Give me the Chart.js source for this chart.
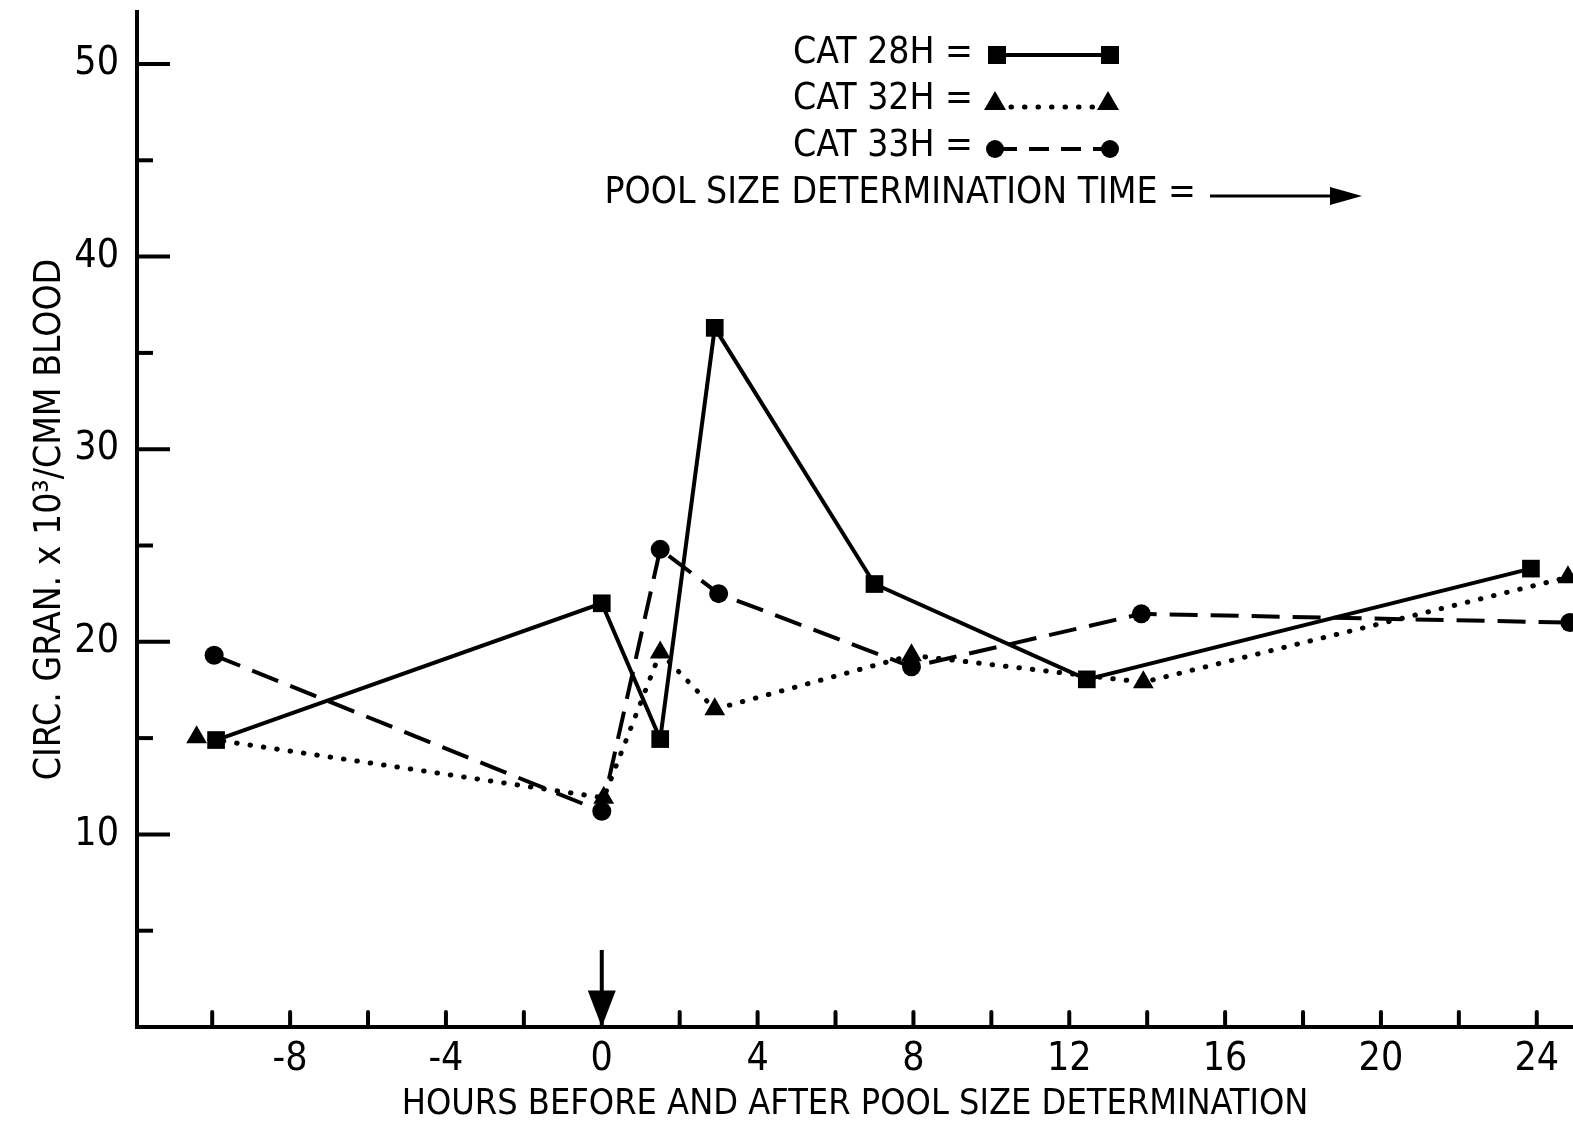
<!DOCTYPE html>
<html><head><meta charset="utf-8">
<script src="https://cdn.jsdelivr.net/npm/chart.js@4/dist/chart.umd.min.js"></script>
<style>html,body{margin:0;padding:0;background:#fff;}#wrap{width:1573px;height:1126px;}</style>
</head><body><div id="wrap"><canvas id="c" width="1573" height="1126"></canvas></div>
<script>
// ---- data ----
const hours28 = [-9.9, 0, 1.5, 2.9, 7.0, 12.45, 23.85];
const cat28   = [14.9, 22.0, 14.95, 36.3, 23.0, 18.05, 23.8];
const hours32 = [-10.4, 0.05, 1.5, 2.9, 7.95, 13.9, 24.8];
const cat32   = [15.05, 11.9, 19.45, 16.5, 19.3, 17.9, 23.35];
const hours33 = [-9.95, 0, 1.5, 3.0, 7.95, 13.85, 24.85];
const cat33   = [19.3, 11.2, 24.8, 22.5, 18.7, 21.45, 21.0];
const seriesNames = ['CAT 28H', 'CAT 32H', 'CAT 33H'];
const arrowLabel = 'POOL SIZE DETERMINATION TIME';
const poolTime = 0;
const xTickLabels = [-8, -4, 0, 4, 8, 12, 16, 20, 24];
const xTickMarks = [-10, -8, -6, -4, -2, 0, 2, 4, 6, 8, 10, 12, 14, 16, 18, 20, 22, 24];
const yTickLabels = [10, 20, 30, 40, 50];
const yMinorTicks = [5, 15, 25, 35, 45];
const xTitle = 'HOURS BEFORE AND AFTER POOL SIZE DETERMINATION';
const yTitle = 'CIRC. GRAN. x 10\u00B3/CMM BLOOD';

const FONT = '"Liberation Sans Narrow", "DejaVu Sans Condensed", sans-serif';
const toPts = (xs, ys) => xs.map((x, i) => ({x: x, y: ys[i]}));

const overlay = {
  id: 'overlay',
  beforeDraw(chart) {
    const ctx = chart.ctx;
    ctx.save(); ctx.fillStyle = '#fff'; ctx.fillRect(0, 0, chart.width, chart.height); ctx.restore();
  },
  afterDraw(chart) {
    const ctx = chart.ctx, xs = chart.scales.x, ys = chart.scales.y, a = chart.chartArea;
    ctx.save();
    ctx.strokeStyle = '#000'; ctx.fillStyle = '#000'; ctx.lineCap = 'round';
    // inward tick marks
    ctx.lineWidth = 4;
    xTickMarks.forEach(v => {
      const px = xs.getPixelForValue(v);
      ctx.beginPath(); ctx.moveTo(px, a.bottom); ctx.lineTo(px, a.bottom - 15); ctx.stroke();
    });
    ctx.lineCap = 'butt';
    yTickLabels.forEach(v => {
      const py = ys.getPixelForValue(v);
      ctx.beginPath(); ctx.moveTo(a.left, py); ctx.lineTo(a.left + 33, py); ctx.stroke();
    });
    yMinorTicks.forEach(v => {
      const py = ys.getPixelForValue(v);
      ctx.beginPath(); ctx.moveTo(a.left, py); ctx.lineTo(a.left + 16, py); ctx.stroke();
    });
    // pool size determination arrow
    const ax = xs.getPixelForValue(poolTime);
    const aTop = ys.getPixelForValue(4.0), aHead = ys.getPixelForValue(1.9), aTip = ys.getPixelForValue(0);
    ctx.lineWidth = 4;
    ctx.beginPath(); ctx.moveTo(ax, aTop); ctx.lineTo(ax, aHead + 4); ctx.stroke();
    ctx.beginPath(); ctx.moveTo(ax - 14, aHead); ctx.lineTo(ax + 14, aHead); ctx.lineTo(ax, aTip); ctx.closePath(); ctx.fill();

    // legend
    ctx.font = '37px ' + FONT; ctx.textAlign = 'right'; ctx.textBaseline = 'middle';
    const rows = [a.top + 41, a.top + 87, a.top + 134, a.top + 181];
    const textRight = a.left + 836, s1 = a.left + 860, s2 = a.left + 973;
    seriesNames.forEach((n, i) => ctx.fillText(n + ' =', textRight, rows[i]));
    ctx.fillText(arrowLabel + ' =', a.left + 1059, rows[3]);
    // sample 1: squares + solid
    let y = rows[0] + 2;
    ctx.lineWidth = 4; ctx.setLineDash([]);
    ctx.beginPath(); ctx.moveTo(s1, y); ctx.lineTo(s2, y); ctx.stroke();
    ctx.fillRect(s1 - 9, y - 9, 18, 18); ctx.fillRect(s2 - 9, y - 9, 18, 18);
    // sample 2: triangles + dotted
    y = rows[1] + 2;
    ctx.lineWidth = 5; ctx.lineCap = 'round'; ctx.setLineDash([0.5, 13]);
    ctx.beginPath(); ctx.moveTo(s1 + 14, y + 6); ctx.lineTo(s2 - 10, y + 6); ctx.stroke();
    ctx.setLineDash([]); ctx.lineCap = 'butt';
    [s1 - 2, s2 - 2].forEach(tx => {
      ctx.beginPath(); ctx.moveTo(tx, y - 10); ctx.lineTo(tx + 11, y + 9); ctx.lineTo(tx - 11, y + 9); ctx.closePath(); ctx.fill();
    });
    // sample 3: circles + dashed
    y = rows[2] + 3;
    ctx.lineWidth = 4; ctx.setLineDash([20, 12]);
    ctx.beginPath(); ctx.moveTo(s1, y); ctx.lineTo(s2, y); ctx.stroke();
    ctx.setLineDash([]);
    [s1 - 2, s2].forEach(cx => { ctx.beginPath(); ctx.arc(cx, y, 9, 0, Math.PI * 2); ctx.fill(); });
    // sample 4: arrow
    y = rows[3] + 3;
    const r0 = a.left + 1073, r1 = a.left + 1225;
    ctx.lineWidth = 3;
    ctx.beginPath(); ctx.moveTo(r0, y); ctx.lineTo(r1 - 28, y); ctx.stroke();
    ctx.beginPath(); ctx.moveTo(r1 - 32, y - 9); ctx.lineTo(r1, y); ctx.lineTo(r1 - 32, y + 9); ctx.closePath(); ctx.fill();
    ctx.restore();
  }
};

new Chart(document.getElementById('c'), {
  type: 'line',
  data: {
    datasets: [
      { label: seriesNames[0], data: toPts(hours28, cat28), borderColor: '#000', backgroundColor: '#000',
        borderWidth: 4, pointStyle: 'rect', pointRadius: 12.5, pointBackgroundColor: '#000', pointBorderWidth: 0, tension: 0 },
      { label: seriesNames[1], data: toPts(hours32, cat32), borderColor: '#000', backgroundColor: '#000',
        borderWidth: 5, borderDash: [0.5, 13], borderCapStyle: 'round', pointStyle: 'triangle', pointRadius: 12,
        pointBackgroundColor: '#000', pointBorderWidth: 0, tension: 0 },
      { label: seriesNames[2], data: toPts(hours33, cat33), borderColor: '#000', backgroundColor: '#000',
        borderWidth: 4, borderDash: [28, 13], pointStyle: 'circle', pointRadius: 9.5,
        pointBackgroundColor: '#000', pointBorderWidth: 0, tension: 0 }
    ]
  },
  options: {
    responsive: false, animation: false, devicePixelRatio: 1,
    layout: { autoPadding: false, padding: { top: 12, right: 0, left: 0, bottom: 0 } },
    plugins: { legend: { display: false }, tooltip: { enabled: false } },
    scales: {
      x: {
        type: 'linear', position: 'bottom', min: -11.93, max: 24.93,
        grid: { display: false, drawTicks: false },
        border: { display: true, color: '#000', width: 4 },
        ticks: { color: '#000', font: { family: FONT, size: 39 }, padding: 9, maxRotation: 0, autoSkip: false },
        afterBuildTicks: s => { s.ticks = xTickLabels.map(v => ({ value: v })); },
        afterFit: s => { s.height = 99; s.paddingLeft = 0; s.paddingRight = 0; },
        title: { display: true, text: xTitle, color: '#000', font: { family: FONT, size: 35.8 }, padding: { top: 0, bottom: 0 } }
      },
      y: {
        type: 'linear', min: 0, max: 52.7,
        grid: { display: false, drawTicks: false },
        border: { display: true, color: '#000', width: 4 },
        ticks: { color: '#000', font: { family: FONT, size: 39 }, padding: 18 },
        afterBuildTicks: s => { s.ticks = yTickLabels.map(v => ({ value: v })); },
        afterFit: s => { s.width = 137; s.paddingTop = 0; s.paddingBottom = 0; },
        title: { display: true, text: yTitle, color: '#000', font: { family: FONT, size: 37 }, padding: { top: 28, bottom: 28 } }
      }
    }
  },
  plugins: [overlay]
});
</script></body></html>
